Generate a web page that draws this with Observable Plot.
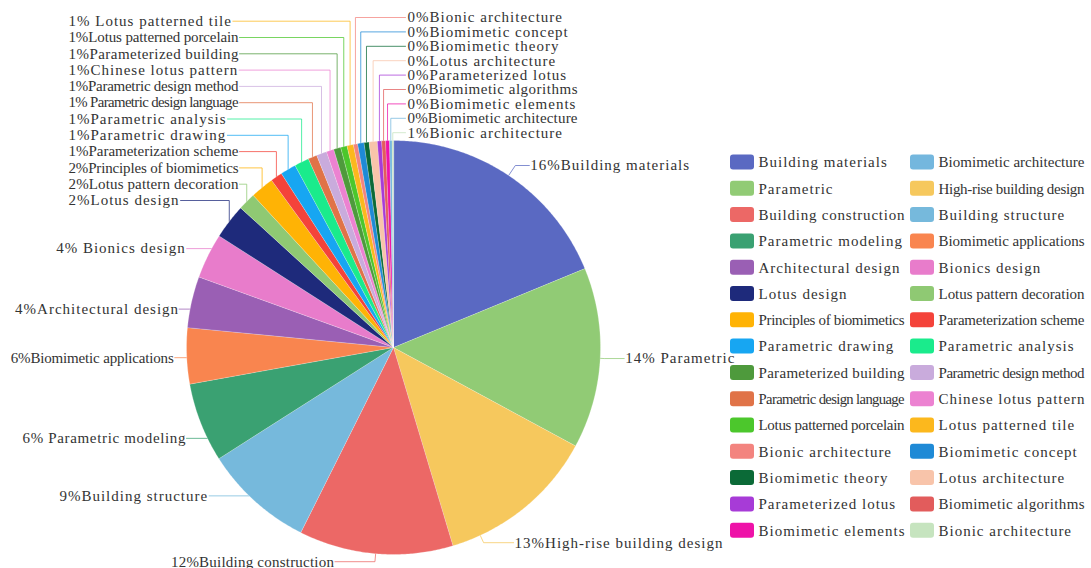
<!DOCTYPE html>
<html><head><meta charset="utf-8">
<script src="https://cdn.jsdelivr.net/npm/d3@7"></script>
<script src="https://cdn.jsdelivr.net/npm/@observablehq/plot@0.6"></script>
<style>
html,body{margin:0;padding:0;background:#fff;}
#chart svg text{letter-spacing:1px;}
</style></head><body><div id="chart"></div>
<script>
// ---- data (pie order, clockwise from 12 o'clock) ----
const names = ["Building materials","Parametric","High-rise building design","Building construction","Building structure","Parametric modeling","Biomimetic applications","Architectural design","Bionics design","Lotus design","Lotus pattern decoration","Principles of biomimetics","Parameterization scheme","Parametric drawing","Parametric analysis","Parametric design language","Parametric design method","Chinese lotus pattern","Parameterized building","Lotus patterned porcelain","Lotus patterned tile","Bionic architecture","Biomimetic concept","Biomimetic theory","Lotus architecture","Parameterized lotus","Biomimetic algorithms","Biomimetic elements","Biomimetic architecture","Bionic architecture"];
// slice shares
const shares = [67.6,50.8,44.9,43.3,30.9,22.3,15.7,14.4,12.7,9.8,4.9,6.6,3.3,4.4,4.1,2.5,2.9,2.1,2.0,1.8,1.8,1.2,1.8,1.4,2.3,1.2,1.1,1.1,0.7,0.4];
// printed percentage prefixes
const pctText = ["16%","14% ","13%","12%","9%","6% ","6%","4%","4% ","2%","2%","2%","1%","1%","1%","1% ","1%","1%","1%","1%","1% ","0%","0%","0%","0%","0%","0%","0%","0%","1%"];
const colors = ["#5a69c2","#91cb75","#f6c85d","#ec6866","#76b9dc","#3aa172","#f9854f","#9a5fb4","#e87ccb","#1e2a7b","#8fc973","#ffb305","#f4433a","#17a6f2","#1aeb8c","#e07348","#c9abdc","#ec82d1","#4e9a3c","#4cc72c","#fcb81d","#f3847f","#1f8ad6","#0b6a37","#f8c4aa","#a73bd7","#e25c5c","#ee12a8","#74b7de","#c6e4bf"];
// legend order (indices into the slice arrays)
const legendOrder = [0,28,1,2,3,4,5,6,7,8,9,10,11,12,13,14,18,16,15,17,19,20,21,22,23,24,25,26,27,29];

// ---- layout ----
const W = 1091, H = 568;
const cx = 393, cy = 347, R = 207;
const FONT = "'Liberation Serif', 'DejaVu Serif', serif";
const FS = 15, LS = 1;
const TEXT = "#333";
const bigLayout = {
  0:{frac:0.5,len1:12,len2:14}, 1:{frac:0.5,len1:4,len2:20}, 2:{frac:0.82,len1:8,len2:30},
  3:{frac:0.5,len1:8,len2:40}, 4:{frac:0.57,len1:0,len2:40}, 5:{frac:0.29,len1:0,len2:21},
  6:{frac:0.47,len1:0,len2:12}, 7:{frac:0.36,len1:0,len2:11}, 8:{frac:0.68,len1:0,len2:25}
};
const leftStack = {from:9, to:20, x:68, yBottom:200, step:16.3, cap:170};
const rightStack = {from:21, to:29, x:407, yTop:17, step:14.4, cap:170};
const leftCap = 163, legendCap = 146;
const legend = {x:[730,910], y0:162, step:26.3, sw:24, sh:15};

const ctx = document.createElement("canvas").getContext("2d");
ctx.font = `${FS}px ${FONT}`;
const rawW = s => ctx.measureText(s).width;
const textW = s => rawW(s) + LS*s.length;
const caps = new Map();

const arcs = d3.pie().sort(null).value(d => d)(shares);
const pt = (a, r = R) => [cx + r*Math.sin(a), cy - r*Math.cos(a)];

const slicePts = [];
arcs.forEach((a, i) => {
  const n = Math.max(2, Math.ceil((a.endAngle - a.startAngle)/(Math.PI/360)));
  slicePts.push({i, x: cx, y: cy, c: colors[i]});
  for (let k = 0; k <= n; k++) {
    const [x, y] = pt(a.startAngle + (a.endAngle - a.startAngle)*k/n);
    slicePts.push({i, x, y, c: colors[i]});
  }
});

const lines = [], labels = [];
arcs.forEach((a, i) => {
  const text = pctText[i] + names[i];
  if (bigLayout[i]) {
    const L = bigLayout[i];
    const ang = a.startAngle + (a.endAngle - a.startAngle)*L.frac;
    const P = pt(ang), Q = pt(ang, R + L.len1);
    const right = Math.sin(ang) > 0;
    const E = [Q[0] + (right ? L.len2 : -L.len2), Q[1]];
    [P, Q, E].forEach(p => lines.push({i, x: p[0], y: p[1], c: colors[i]}));
    labels.push({x: E[0] + (right ? 1 : -1), y: E[1], text, anchor: right ? "start" : "end"});
    if (!right) caps.set(text, leftCap);
  } else if (i >= leftStack.from && i <= leftStack.to) {
    const mid = (a.startAngle + a.endAngle)/2, P = pt(mid);
    const y = leftStack.yBottom - (i - leftStack.from)*leftStack.step;
    const xe = leftStack.x + Math.min(textW(text), leftStack.cap) + 1;
    [P, [P[0], y], [xe, y]].forEach(p => lines.push({i, x: p[0], y: p[1], c: colors[i]}));
    labels.push({x: leftStack.x, y, text, anchor: "start"});
    caps.set(text, leftStack.cap);
  } else {
    const mid = (a.startAngle + a.endAngle)/2, P = pt(mid);
    const y = rightStack.yTop + (i - rightStack.from)*rightStack.step;
    [P, [P[0], y], [rightStack.x - 2, y]].forEach(p => lines.push({i, x: p[0], y: p[1], c: colors[i]}));
    labels.push({x: rightStack.x, y, text, anchor: "start"});
    caps.set(text, rightStack.cap);
  }
});

const leg = legendOrder.map((idx, k) => ({
  name: names[idx], c: colors[idx],
  x: legend.x[k % 2], y: legend.y0 + Math.floor(k/2)*legend.step
}));
leg.forEach(d => caps.set(d.name, legendCap));

const chart = Plot.plot({
  width: W, height: H, margin: 0,
  x: {domain: [0, W], range: [0, W], axis: null},
  y: {domain: [0, H], range: [0, H], axis: null},
  color: {type: "identity"},
  style: {fontFamily: FONT, fontSize: FS + "px", background: "#fff"},
  marks: [
    Plot.line(lines, {x: "x", y: "y", z: "i", stroke: "c", strokeWidth: 1, strokeOpacity: 0.75}),
    Plot.line(slicePts, {x: "x", y: "y", z: "i", fill: "c", stroke: "#ffffff", strokeWidth: 0.4, strokeOpacity: 0.6, curve: "linear-closed"}),
    ...["start","end"].map(an => Plot.text(labels.filter(d => d.anchor === an), {x: "x", y: "y", text: "text", textAnchor: an, fill: TEXT, fontSize: FS})),
    Plot.rect(leg, {x1: "x", x2: d => d.x + legend.sw, y1: d => d.y - legend.sh/2, y2: d => d.y + legend.sh/2, fill: "c", rx: 3}),
    Plot.text(leg, {x: d => d.x + legend.sw + 4, y: "y", text: "name", textAnchor: "start", fill: TEXT, fontSize: FS})
  ]
});
document.getElementById("chart").appendChild(chart);

// fit over-long texts to their available width: tighten spacing first, then shrink slightly
chart.querySelectorAll("text").forEach(el => {
  const s = el.textContent, cap = caps.get(s);
  if (!cap || textW(s) <= cap) return;
  const natural = rawW(s);
  let fs = FS;
  if (natural - 0.6*s.length > cap) fs = FS * (cap + 0.6*s.length) / natural;
  el.setAttribute("font-size", fs.toFixed(2));
  el.style.fontSize = fs.toFixed(2) + "px";
  el.style.letterSpacing = "0px";
  el.setAttribute("textLength", cap);
  el.setAttribute("lengthAdjust", "spacing");
});
</script></body></html>
